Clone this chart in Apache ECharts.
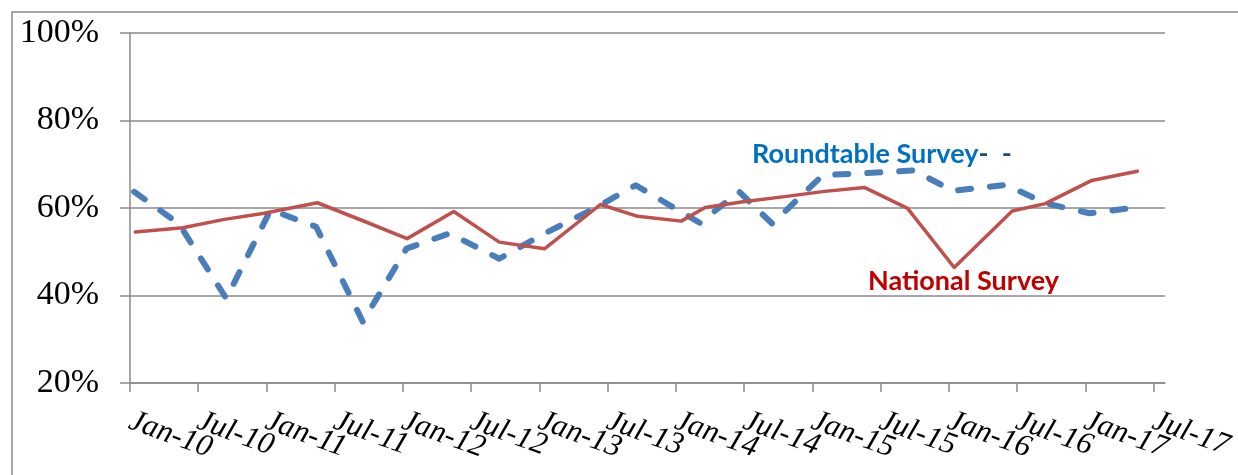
<!DOCTYPE html>
<html>
<head>
<meta charset="utf-8">
<script src="https://cdn.jsdelivr.net/npm/echarts@6/dist/echarts.min.js"></script>
<style>
  html, body { margin: 0; padding: 0; background: #fff; }
  #chart { width: 1238px; height: 475px; }
</style>
</head>
<body>
<div id="chart"></div>
<script>
// ---- Data ----
const tickLabels = ['Jan-10','Jul-10','Jan-11','Jul-11','Jan-12','Jul-12','Jan-13','Jul-13',
                    'Jan-14','Jul-14','Jan-15','Jul-15','Jan-16','Jul-16','Jan-17','Jul-17'];

const nationalDates = ['2010-01-15','2010-05-20','2010-09-10','2010-12-25','2011-05-15','2011-09-12',
                       '2012-01-12','2012-05-15','2012-09-15','2013-01-15','2013-06-12','2013-09-20',
                       '2014-01-15','2014-03-18','2014-07-03','2014-10-18','2015-02-03','2015-05-18',
                       '2015-09-12','2016-01-15','2016-06-18','2016-09-15','2017-01-18','2017-05-18'];
const nationalValues = [54.5, 55.5, 57.4, 58.8, 61.2, 57.2,
                        53.0, 59.2, 52.2, 50.7, 60.8, 58.1,
                        57.0, 60.1, 61.5, 62.6, 63.8, 64.7,
                        59.9, 46.4, 59.3, 61.0, 66.3, 68.4];

const roundtableDates = ['2010-01-12','2010-05-10','2010-09-15','2011-01-12','2011-05-12','2011-09-15',
                         '2012-01-10','2012-05-04','2012-09-15','2013-01-15','2013-05-28','2013-09-15',
                         '2014-03-04','2014-06-18','2014-09-15','2015-01-28','2015-05-28','2015-09-28',
                         '2016-01-12','2016-06-01','2016-09-15','2017-01-12','2017-04-25'];
const roundtableValues = [63.7, 56.4, 39.3, 59.6, 55.7, 34.0,
                          50.7, 54.2, 48.4, 54.2, 60.0, 65.2,
                          56.6, 63.7, 56.4, 67.5, 68.0, 68.6,
                          63.9, 65.3, 61.1, 58.8, 59.9];

// months since Jan 2010 (the axis is a 6-month date axis)
function toMonths(s) {
  const p = s.split('-').map(Number);
  return (p[0] - 2010) * 12 + (p[1] - 1) + (p[2] - 1) / 30;
}
const nationalData = nationalDates.map((d, i) => [toMonths(d), nationalValues[i]]);
const roundtableData = roundtableDates.map((d, i) => [toMonths(d), roundtableValues[i]]);
const tickValues = tickLabels.map((_, i) => i * 6);
const janValues = tickValues.filter((_, i) => i % 2 === 0);
const julValues = tickValues.filter((_, i) => i % 2 === 1);

const gray = '#8a8a8a';
const labelStyle = {
  showMinLabel: true,
  showMaxLabel: true,
  hideOverlap: false,
  rotate: -20,
  margin: 37,
  fontFamily: 'Liberation Serif',
  fontStyle: 'italic',
  fontSize: 31,
  color: '#000',
  formatter: v => tickLabels[Math.round(v / 6)] || ''
};

const chart = echarts.init(document.getElementById('chart'), null, { renderer: 'canvas' });
chart.setOption({
  animation: false,
  backgroundColor: '#fff',
  grid: { left: 130, right: 73, top: 33, bottom: 92, containLabel: false },
  xAxis: [
    {
      type: 'value',
      position: 'bottom',
      min: 0, max: 91, interval: 6,
      axisLine: { show: true, lineStyle: { color: gray, width: 1.5 } },
      axisTick: { show: true, length: 9, customValues: tickValues, lineStyle: { color: gray, width: 1.5 } },
      splitLine: { show: false },
      axisLabel: Object.assign({ customValues: janValues }, labelStyle)
    },
    {
      type: 'value',
      position: 'bottom',
      offset: 0,
      min: 0, max: 91, interval: 6,
      axisLine: { show: false },
      axisTick: { show: false },
      splitLine: { show: false },
      axisLabel: Object.assign({ customValues: julValues }, labelStyle)
    }
  ],
  yAxis: {
    type: 'value',
    min: 20, max: 100, interval: 20,
    axisLine: { show: true, lineStyle: { color: gray, width: 1.5 } },
    axisTick: { show: true, length: 10, lineStyle: { color: gray, width: 1.5 } },
    splitLine: { show: true, lineStyle: { color: gray, width: 1.5 } },
    axisLabel: {
      formatter: '{value}%',
      margin: 31,
      fontFamily: 'Liberation Serif',
      fontSize: 34,
      color: '#000'
    }
  },
  series: [
    {
      name: 'Roundtable Survey',
      type: 'line',
      xAxisIndex: 0,
      data: roundtableData,
      showSymbol: false,
      symbol: 'none',
      lineStyle: { color: '#4A7EBB', width: 6, type: [13, 19], cap: 'round', join: 'round' },
      z: 2
    },
    {
      name: 'National Survey',
      type: 'line',
      xAxisIndex: 0,
      data: nationalData,
      showSymbol: false,
      symbol: 'none',
      lineStyle: { color: '#C0504D', width: 3.5, cap: 'round', join: 'round' },
      z: 3
    }
  ],
  graphic: [
    {
      type: 'rect',
      shape: { x: 12, y: 12, width: 1260, height: 500 },
      style: { fill: null, stroke: gray, lineWidth: 1.5 },
      silent: true
    },
    {
      type: 'text',
      x: 752, y: 154,
      style: {
        text: 'Roundtable Survey{d|-  -}',
        fill: '#0070C0',
        font: 'bold 27px Lato',
        textVerticalAlign: 'middle',
        rich: { d: { fill: '#1F497D', font: 'bold 27px Lato' } }
      }
    },
    {
      type: 'text',
      x: 868, y: 281,
      style: {
        text: 'National Survey',
        fill: '#C00000',
        font: 'bold 27px Lato',
        textVerticalAlign: 'middle'
      }
    }
  ]
});
</script>
</body>
</html>
